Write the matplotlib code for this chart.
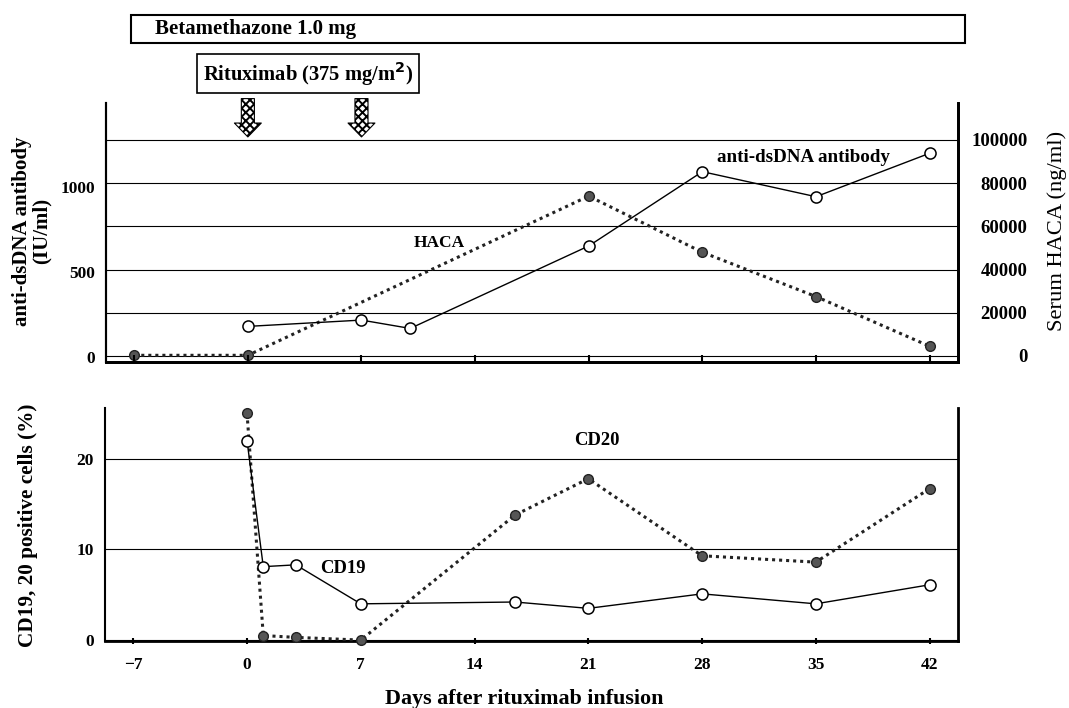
import matplotlib
matplotlib.use("Agg")
import matplotlib.pyplot as plt
from matplotlib.patches import Rectangle

# --- data ---
dsdna_days = [0, 7, 10, 21, 28, 35, 42]
dsdna_iu = [180, 217, 168, 652, 1088, 941, 1196]

haca_days = [-7, 0, 21, 28, 35, 42]
haca_ng = [300, 300, 74000, 48000, 27500, 4500]

cd19_days = [0, 1, 3, 7, 16.5, 21, 28, 35, 42]
cd19_pct = [22.0, 8.1, 8.3, 4.0, 4.2, 3.5, 5.1, 4.0, 6.1]

cd20_days = [0, 1, 3, 7, 16.5, 21, 28, 35, 42]
cd20_pct = [25.0, 0.5, 0.3, 0.0, 13.8, 17.8, 9.3, 8.6, 16.7]

rituximab_days = [0, 7]
day_ticks = [-7, 0, 7, 14, 21, 28, 35, 42]
haca_ticks = [0, 20000, 40000, 60000, 80000, 100000]
haca_ticklabels = ["0", "20000", "40000", "60000", "80000", "100000"]
dsdna_ticks = [0, 500, 1000]
cd_ticks = [0, 10, 20]

plt.rcParams["font.family"] = ["Liberation Serif", "DejaVu Serif"]
plt.rcParams["font.weight"] = "bold"
plt.rcParams["hatch.linewidth"] = 1.4

W, H = 1069, 708
fig = plt.figure(figsize=(W / 100, H / 100), dpi=100)


def px_box(left, top, right, bottom):
    """pixel box -> figure fraction [l, b, w, h]"""
    return [left / W, 1 - bottom / H, (right - left) / W, (bottom - top) / H]


xlim = (-8.74, 43.75)
open_style = dict(marker="o", ms=8, mfc="white", mec="black", mew=1.1,
                  color="black", lw=1.0, clip_on=False, zorder=4)
fill_style = dict(marker="o", ms=7, mfc="#555555", mec="#222222", mew=1.0,
                  color="#222222", lw=2.2, dashes=(1, 1.3), clip_on=False, zorder=3)

# ---------------- top panel ----------------
ax1 = fig.add_axes(px_box(106, 103, 958, 362))
ax2 = ax1.twinx()
ax1.set_zorder(ax2.get_zorder() + 1)
ax1.patch.set_visible(False)

ax2.plot(haca_days, haca_ng, **fill_style)
ax1.plot(dsdna_days, dsdna_iu, **open_style)

ax1.set_xlim(*xlim)
ax1.set_ylim(-29, 1491)
ax2.set_ylim(-2800, 117100)

ax2.set_yticks(haca_ticks)
ax2.set_yticklabels(haca_ticklabels, fontsize=13.5)
for lbl in ax2.get_yticklabels():
    lbl.set_horizontalalignment("right")
ax2.tick_params(axis="y", length=0, pad=50)
ax2.grid(axis="y", color="black", lw=0.8)
ax2.set_axisbelow(True)

ax1.set_yticks(dsdna_ticks)
ax1.set_yticklabels([str(t) for t in dsdna_ticks], fontsize=12.5)
ax1.tick_params(axis="y", length=0, pad=8)
ax1.set_xticks(day_ticks)
ax1.set_xticklabels([])
ax1.tick_params(axis="x", direction="in", length=5, width=1.5)

for a in (ax1, ax2):
    a.spines["top"].set_visible(False)
    a.spines["bottom"].set_linewidth(2)
    a.spines["left"].set_linewidth(1.5)
    a.spines["right"].set_linewidth(2)
ax2.tick_params(axis="x", length=0)

ax1.text(11.8, 670, "HACA", ha="center", va="center", fontsize=12.5)
ax1.text(34.2, 1174, "anti-dsDNA antibody", ha="center", va="center", fontsize=13.7)

# rituximab infusion arrows
for d in rituximab_days:
    ax1.annotate("", xy=(d, 0.869), xytext=(d, 1.017),
                 xycoords=("data", "axes fraction"),
                 arrowprops=dict(arrowstyle="simple,head_length=0.5,head_width=0.97,tail_width=0.47",
                                 mutation_scale=20, fc="white", ec="black",
                                 lw=0.8, hatch="xxxx", shrinkA=0, shrinkB=0),
                 annotation_clip=False)

# treatment boxes
fig.patches.append(Rectangle((131 / W, 1 - 43 / H), 834 / W, 28 / H,
                             transform=fig.transFigure, fc="white", ec="black", lw=1.5))
fig.text(155 / W, 1 - 29 / H, "Betamethazone 1.0 mg", ha="left", va="center", fontsize=15)
fig.patches.append(Rectangle((197 / W, 1 - 93 / H), 222 / W, 39 / H,
                             transform=fig.transFigure, fc="white", ec="black", lw=1.2))
fig.text(308 / W, 1 - 74 / H, "Rituximab (375 mg/m$^\\mathbf{2}$)", ha="center", va="center",
         fontsize=14.8)

fig.text(32 / W, 1 - 231 / H, "anti-dsDNA antibody\n(IU/ml)", rotation=90, ha="center",
         va="center", multialignment="center", fontsize=15, linespacing=0.95)
fig.text(1057 / W, 1 - 231 / H, "Serum HACA (ng/ml)", rotation=90, ha="center",
         va="center", fontsize=16.2, fontweight="normal")

# ---------------- bottom panel ----------------
ax3 = fig.add_axes(px_box(105, 408, 958, 641))
ax3.plot(cd20_days, cd20_pct, **fill_style)
ax3.plot(cd19_days, cd19_pct, **open_style)
ax3.set_xlim(*xlim)
ax3.set_ylim(-0.1, 25.6)
ax3.set_yticks(cd_ticks)
ax3.set_yticklabels([str(t) for t in cd_ticks], fontsize=12.5)
ax3.tick_params(axis="y", length=0, pad=8)
ax3.set_xticks(day_ticks)
ax3.set_xticklabels(["\u22127" if t < 0 else str(t) for t in day_ticks], fontsize=12.5)
ax3.tick_params(axis="x", direction="inout", length=5, width=1.5, pad=9)
ax3.grid(axis="y", color="black", lw=0.8)
ax3.set_axisbelow(True)
ax3.spines["top"].set_visible(False)
ax3.spines["bottom"].set_linewidth(2)
ax3.spines["left"].set_linewidth(1.5)
ax3.spines["right"].set_linewidth(2)

ax3.text(21.5, 22.0, "CD20", ha="center", va="center", fontsize=13.4)
ax3.text(5.9, 7.9, "CD19", ha="center", va="center", fontsize=13.4)

fig.text(28 / W, 1 - 525 / H, "CD19, 20 positive cells (%)", rotation=90, ha="center",
         va="center", fontsize=15.3)
fig.text(524 / W, 1 - 699 / H, "Days after rituximab infusion", ha="center", va="center",
         fontsize=15.8)

fig.savefig("out.png", dpi=100)
